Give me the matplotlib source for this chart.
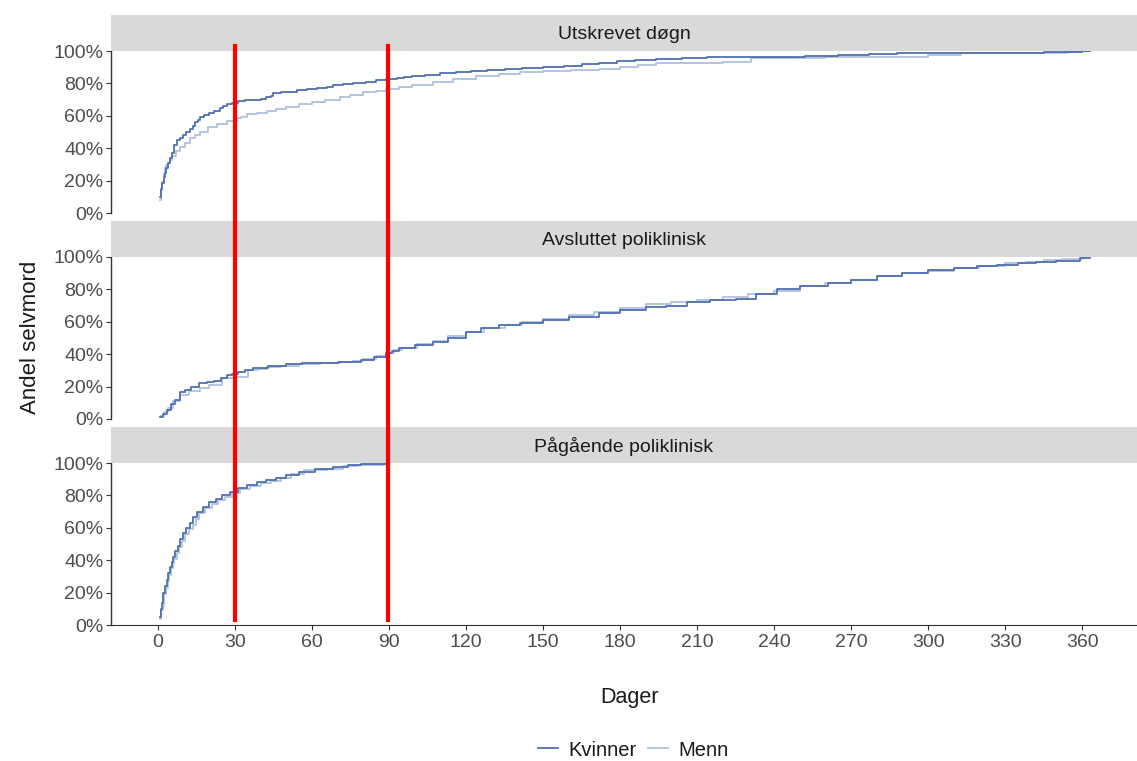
import matplotlib.pyplot as plt
import matplotlib.transforms as mtransforms
from matplotlib.lines import Line2D
from matplotlib.ticker import PercentFormatter

plt.rcParams['font.family'] = ['Liberation Sans', 'DejaVu Sans']

# kumulativ andel selvmord per dag etter kontakt, per kjønn
panels = ['Utskrevet døgn', 'Avsluttet poliklinisk', 'Pågående poliklinisk']

# utskrevet døgn
k1_days = [0.8, 1.2, 1.6, 2.2, 2.7, 3.3, 3.9, 4.6, 5.5, 6.4,
           7.4, 8.5, 9.7, 11, 12.5, 13.5, 14.4, 15.4, 16.4, 18,
           20, 22, 24, 25.5, 27, 29, 31, 34, 37, 40,
           42, 44, 45, 48, 50, 54, 58, 62, 66, 68,
           72, 76, 81, 85, 89, 93, 96, 99, 104, 110,
           116, 122, 128, 135, 142, 150, 158, 165, 172, 179,
           186, 194, 204, 214, 233, 252, 265, 277, 288, 310,
           331, 345, 354, 360, 363]
k1_vals = [0.10, 0.15, 0.185, 0.22, 0.25, 0.28, 0.31, 0.34, 0.37, 0.42,
           0.45, 0.465, 0.48, 0.50, 0.52, 0.54, 0.56, 0.575, 0.59, 0.605,
           0.62, 0.63, 0.65, 0.66, 0.67, 0.68, 0.69, 0.695, 0.70, 0.705,
           0.715, 0.725, 0.74, 0.745, 0.75, 0.757, 0.765, 0.772, 0.78, 0.79,
           0.795, 0.80, 0.81, 0.818, 0.827, 0.833, 0.84, 0.845, 0.853, 0.862,
           0.87, 0.875, 0.88, 0.887, 0.893, 0.90, 0.908, 0.917, 0.926, 0.938,
           0.944, 0.95, 0.955, 0.96, 0.964, 0.969, 0.975, 0.98, 0.986, 0.988,
           0.99, 0.993, 0.995, 1.0, 1.0]
m1_days = [0.8, 1.2, 1.6, 2.2, 2.7, 3.3, 4, 4.8, 5.5, 7,
           8.6, 10.5, 12.5, 14.5, 16.4, 19.5, 23, 27, 30.8, 32.5,
           34.7, 38.5, 42.5, 46, 50, 55, 60, 65, 71, 75,
           80, 85, 89, 94, 99, 107, 115, 124, 133, 141,
           150, 161, 172, 180, 187, 194, 207, 220, 231, 260,
           286, 300, 313, 335, 354, 360, 363]
m1_vals = [0.08, 0.14, 0.19, 0.24, 0.28, 0.295, 0.31, 0.33, 0.35, 0.38,
           0.41, 0.435, 0.46, 0.48, 0.50, 0.53, 0.55, 0.565, 0.585, 0.595,
           0.61, 0.62, 0.63, 0.645, 0.655, 0.67, 0.685, 0.70, 0.716, 0.73,
           0.747, 0.756, 0.765, 0.775, 0.79, 0.81, 0.83, 0.847, 0.86, 0.868,
           0.875, 0.883, 0.89, 0.903, 0.913, 0.924, 0.929, 0.934, 0.954, 0.96,
           0.965, 0.975, 0.986, 0.989, 0.992, 1.0, 1.0]

# avsluttet poliklinisk
k2_days = [0.8, 2, 3.5, 5, 6.5, 8.6, 10.5, 13, 16, 19,
           22, 24.5, 27, 29, 31, 34, 37, 43, 50, 56,
           62, 70, 79, 84, 89, 91, 94, 100, 107, 113,
           120, 126, 133, 141, 150, 160, 172, 180, 190, 198,
           206, 215, 225, 233, 241, 250, 261, 270, 280, 290,
           300, 310, 319, 327, 335, 342, 350, 359, 363]
k2_vals = [0.01, 0.03, 0.055, 0.09, 0.12, 0.167, 0.18, 0.20, 0.22, 0.228,
           0.235, 0.25, 0.27, 0.28, 0.29, 0.30, 0.315, 0.325, 0.34, 0.343,
           0.346, 0.352, 0.364, 0.38, 0.407, 0.42, 0.438, 0.455, 0.475, 0.50,
           0.537, 0.56, 0.58, 0.595, 0.61, 0.63, 0.654, 0.675, 0.69, 0.70,
           0.72, 0.735, 0.74, 0.77, 0.80, 0.82, 0.84, 0.86, 0.88, 0.90,
           0.92, 0.933, 0.944, 0.952, 0.96, 0.968, 0.975, 0.994, 1.0]
m2_days = [1, 2.5, 4, 6, 8.6, 12, 16.4, 20, 25, 30,
           35, 39, 42.5, 48, 55, 63, 71, 76, 80, 85,
           89, 92, 95, 101, 107, 113, 120, 127, 135, 142,
           150, 160, 170, 180, 190, 200, 210, 220, 230, 240,
           250, 260, 270, 280, 290, 300, 310, 320, 330, 338,
           345, 352, 360, 363]
m2_vals = [0.02, 0.045, 0.07, 0.11, 0.148, 0.17, 0.19, 0.21, 0.25, 0.26,
           0.30, 0.31, 0.32, 0.33, 0.34, 0.345, 0.35, 0.36, 0.37, 0.39,
           0.41, 0.425, 0.44, 0.46, 0.48, 0.51, 0.54, 0.56, 0.58, 0.60,
           0.62, 0.64, 0.66, 0.685, 0.71, 0.722, 0.735, 0.75, 0.77, 0.79,
           0.82, 0.84, 0.86, 0.88, 0.90, 0.915, 0.93, 0.945, 0.96, 0.97,
           0.98, 0.99, 1.0, 1.0]

# pågående poliklinisk
k3_days = [0.8, 1.2, 1.6, 2, 2.7, 3.5, 4.1, 4.7, 5.3, 5.8,
           6.8, 7.8, 8.7, 9.7, 11, 12.5, 13.8, 15.2, 17.5, 20,
           22.5, 25, 28, 31, 34.5, 38.6, 42, 46, 50, 55,
           61, 68, 74, 79, 89]
k3_vals = [0.05, 0.10, 0.136, 0.20, 0.24, 0.28, 0.32, 0.36, 0.39, 0.42,
           0.455, 0.49, 0.53, 0.57, 0.60, 0.63, 0.665, 0.70, 0.73, 0.76,
           0.78, 0.80, 0.823, 0.845, 0.862, 0.88, 0.895, 0.91, 0.925, 0.944,
           0.96, 0.975, 0.985, 0.994, 1.0]
m3_days = [0.8, 1.3, 1.8, 2.5, 3.1, 3.8, 4.4, 5, 5.7, 6.3,
           7.3, 8.3, 9.4, 10.5, 12, 13.5, 14.8, 16, 18.5, 21,
           23.5, 26, 29, 32, 36, 40, 44, 48, 52, 57,
           62, 66, 72, 78, 88, 89]
m3_vals = [0.04, 0.09, 0.12, 0.19, 0.23, 0.27, 0.31, 0.35, 0.38, 0.41,
           0.445, 0.48, 0.52, 0.56, 0.59, 0.62, 0.655, 0.69, 0.72, 0.75,
           0.77, 0.79, 0.815, 0.84, 0.857, 0.875, 0.89, 0.905, 0.93, 0.955,
           0.958, 0.965, 0.98, 0.99, 1.0, 1.0]

series = [((k1_days, k1_vals), (m1_days, m1_vals)),
          ((k2_days, k2_vals), (m2_days, m2_vals)),
          ((k3_days, k3_vals), (m3_days, m3_vals))]

cutoffs = [30, 89.5]
xticks = list(range(0, 361, 30))

c_kvinner = '#4f6fae'
c_menn = '#b3c5e3'
grey_txt = '#4d4d4d'

W, H = 1137, 761
fig = plt.figure(figsize=(W / 100, H / 100), dpi=100)

left = 111 / W
width = 1 - left
# panel topp / bunn i piksler
boxes = [(51, 213), (257, 419), (463, 625)]
strip_h = 36

axes = []
for i, (top, bot) in enumerate(boxes):
    ax = fig.add_axes([left, 1 - bot / H, width, (bot - top) / H])
    (kd, kv), (md, mv) = series[i]
    ax.step(md, mv, where='post', color=c_menn, lw=1.4, label='Menn', zorder=2)
    ax.step(kd, kv, where='post', color=c_kvinner, lw=1.3, label='Kvinner', zorder=3)
    ax.set_xlim(-18.3, 381.4)
    ax.set_ylim(0, 1.0)
    ax.set_yticks([0, 0.2, 0.4, 0.6, 0.8, 1.0])
    ax.yaxis.set_major_formatter(PercentFormatter(1.0, decimals=0))
    for s in ['top', 'right', 'bottom']:
        ax.spines[s].set_visible(False)
    ax.spines['left'].set_color('#333333')
    ax.spines['left'].set_linewidth(1.0)
    ax.tick_params(axis='y', labelsize=14, labelcolor=grey_txt, color='#333333', length=3.5, pad=2)
    if i < 2:
        ax.tick_params(axis='x', bottom=False, labelbottom=False)
    else:
        ax.spines['bottom'].set_visible(True)
        ax.spines['bottom'].set_color('#333333')
        ax.set_xticks(xticks)
        ax.tick_params(axis='x', labelsize=14, labelcolor=grey_txt, color='#333333', length=3.5, pad=3)
    # fasettstripe over panelet
    sax = fig.add_axes([left, 1 - top / H, width, strip_h / H])
    sax.set_facecolor('#d9d9d9')
    sax.set_xticks([])
    sax.set_yticks([])
    for s in sax.spines.values():
        s.set_visible(False)
    sax.text(0.5, 0.45, panels[i], ha='center', va='center', fontsize=14, color='#1a1a1a',
             transform=sax.transAxes)
    axes.append(ax)

# røde linjer for 30 og 90 dager, over alle panelene
trans = mtransforms.blended_transform_factory(axes[2].transData, fig.transFigure)
for d in cutoffs:
    fig.add_artist(Line2D([d, d], [1 - 46 / H, 1 - 620 / H], transform=trans, color='#ff0000',
                          lw=3, zorder=10))

fig.text(0.027, 1 - 337 / H, 'Andel selvmord', rotation=90, ha='center', va='center',
         fontsize=16, color='#1a1a1a')
fig.text(0.554, 1 - 698 / H, 'Dager', ha='center', va='center', fontsize=15.5, color='#1a1a1a')

handles, labels = axes[0].get_legend_handles_labels()
order = [1, 0]
fig.legend([handles[j] for j in order], [labels[j] for j in order], ncol=2, frameon=False,
           loc='center', bbox_to_anchor=(0.557, 1 - 750 / H), fontsize=14.5, handlelength=1.0,
           columnspacing=0.6, handletextpad=0.5, labelcolor='#1a1a1a')

fig.savefig('out.png', dpi=100)
